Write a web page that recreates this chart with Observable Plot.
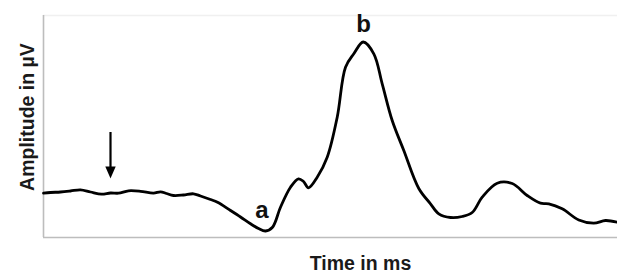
<!DOCTYPE html>
<html>
<head>
<meta charset="utf-8">
<script src="https://cdn.jsdelivr.net/npm/d3@7"></script>
<script src="https://cdn.jsdelivr.net/npm/@observablehq/plot@0.6"></script>
<style>
  html, body { margin: 0; padding: 0; background: #ffffff; }
  #chart svg { display: block; }
</style>
</head>
<body>
<div id="chart"></div>
<script>
// Time (arbitrary ms units along the sweep) and amplitude (arbitrary µV units)
const times = [0, 7, 17, 27, 37, 47, 58, 67, 75, 85, 97, 110, 117, 123, 130, 140, 150, 157, 167, 174,
  187, 197, 207, 215, 222, 229, 237, 247, 255, 260, 265, 273.7, 283.7, 293.7, 302, 310.3, 319.7,
  330.3, 338.7, 348.7, 360.3, 375.3, 387, 395.3, 407, 418.7, 428.7, 438.7, 453.7, 468.7, 483.7,
  497, 505.3, 518.7, 535.3, 550.3, 562, 573.7];
const amplitudes = [44.3, 45, 45.5, 46.5, 47.7, 45.5, 43.3, 44.5, 44.3, 46.7, 46.2, 44.3, 45.7, 44, 42,
  42.5, 43.7, 41.5, 38, 35.3, 27, 20.5, 13.7, 9, 6.5, 10.3, 30.3, 50.3, 58.7, 56, 49.7, 60.3, 80.3,
  120.3, 170.3, 183.7, 195.5, 183.7, 153.7, 117, 87, 49, 33.7, 23.7, 20, 21, 25, 40.3, 54.3, 54,
  42, 34.3, 33.7, 28.7, 17.5, 14.3, 17, 15.3];

// Wave labels
const labelTexts = ["a", "b"];
const labelTimes = [218.5, 320];
const labelAmps = [26.7, 212.7];

// Stimulus arrow
const arrowTimes = [67];
const arrowFrom = [105];
const arrowTo = [59];

const xDomain = [0, 574];
const yDomain = [0, 222];

const xTitle = "Time in ms";
const yTitle = "Amplitude in µV";
const xTitlePos = [317];
const yTitlePos = [120.5];

const wave = times.map((t, i) => ({t, amp: amplitudes[i]}));
const labels = labelTexts.map((s, i) => ({s, t: labelTimes[i], amp: labelAmps[i]}));
const arrows = arrowTimes.map((t, i) => ({t, from: arrowFrom[i], to: arrowTo[i]}));

const triangleDown = {
  draw(context) {
    context.moveTo(0, 0);
    context.lineTo(-5.2, -12);
    context.lineTo(5.2, -12);
    context.closePath();
  }
};

const font = "'Liberation Sans', Arial, Helvetica, sans-serif";

const chart = Plot.plot({
  width: 617,
  height: 274,
  marginLeft: 43,
  marginRight: 0,
  marginTop: 15,
  marginBottom: 37,
  style: {background: "#ffffff", fontFamily: font},
  x: {domain: xDomain, axis: null},
  y: {domain: yDomain, axis: null},
  marks: [
    Plot.ruleY([yDomain[1]], {stroke: "#f0f0f0", strokeWidth: 1.5}),
    Plot.ruleX([xDomain[0]], {stroke: "#bdbdbd", strokeWidth: 1.6}),
    Plot.ruleY([yDomain[0]], {stroke: "#bdbdbd", strokeWidth: 1.6}),
    Plot.line(wave, {x: "t", y: "amp", curve: "catmull-rom", stroke: "#000", strokeWidth: 2.8,
      strokeLinejoin: "round", strokeLinecap: "round"}),
    Plot.ruleX(arrows, {x: "t", y1: "from", y2: "to", stroke: "#000", strokeWidth: 2.2, insetBottom: 9}),
    Plot.dot(arrows, {x: "t", y: "to", symbol: triangleDown, r: 5, fill: "#000", stroke: "none"}),
    Plot.text(labels, {x: "t", y: "amp", text: "s", fontSize: 24, fontWeight: "bold", fill: "#111",
      fontFamily: font, textAnchor: "middle", lineAnchor: "middle"}),
    Plot.text(xTitlePos, {x: d => d, frameAnchor: "bottom", dy: 26, text: () => xTitle,
      textAnchor: "middle", lineAnchor: "middle",
      fontSize: 19.5, fontWeight: "bold", fill: "#1a1a1a", fontFamily: font}),
    Plot.text(yTitlePos, {y: d => d, frameAnchor: "left", dx: -16, rotate: -90, text: () => yTitle,
      textAnchor: "middle", lineAnchor: "middle",
      fontSize: 19.5, fontWeight: "bold", fill: "#1a1a1a", fontFamily: font})
  ]
});
document.getElementById("chart").appendChild(chart);
</script>
</body>
</html>
